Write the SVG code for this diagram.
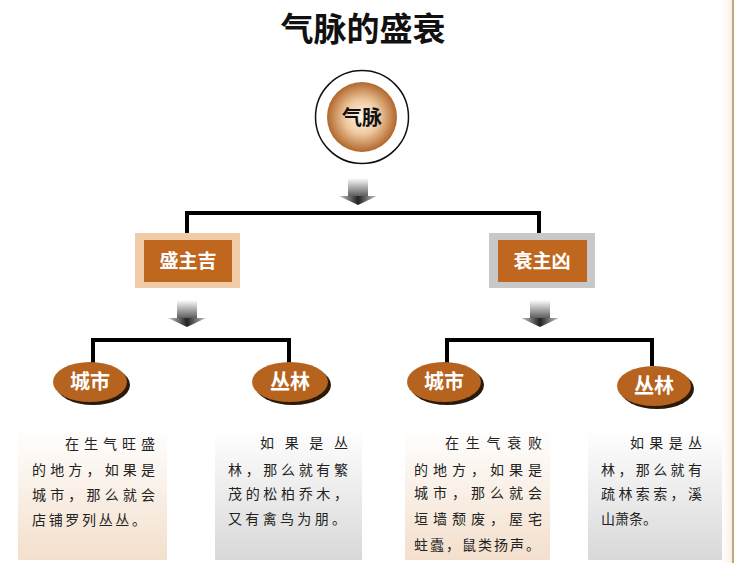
<svg xmlns="http://www.w3.org/2000/svg" width="737" height="563" viewBox="0 0 737 563">
<defs>
<radialGradient id="ball" cx="50%" cy="50%" r="50%">
<stop offset="0" stop-color="#fff6ea"/>
<stop offset="0.5" stop-color="#eec79e"/>
<stop offset="1" stop-color="#b0672b"/>
</radialGradient>
<linearGradient id="stem" x1="0" y1="0" x2="0" y2="1">
<stop offset="0" stop-color="#ffffff"/>
<stop offset="1" stop-color="#555555"/>
</linearGradient>
<linearGradient id="head" x1="0" y1="0" x2="1" y2="0">
<stop offset="0" stop-color="#cccccc"/>
<stop offset="0.5" stop-color="#222222"/>
<stop offset="1" stop-color="#cccccc"/>
</linearGradient>
<linearGradient id="peach" x1="0" y1="0" x2="0" y2="1">
<stop offset="0" stop-color="#ffffff"/>
<stop offset="1" stop-color="#f3dfcc"/>
</linearGradient>
<linearGradient id="gray" x1="0" y1="0" x2="0" y2="1">
<stop offset="0" stop-color="#ffffff"/>
<stop offset="1" stop-color="#d8d8d8"/>
</linearGradient>
<linearGradient id="edge" x1="0" y1="0" x2="1" y2="0">
<stop offset="0" stop-color="#ffffff" stop-opacity="0"/>
<stop offset="1" stop-color="#f6ebdf"/>
</linearGradient>
<g id="arrow">
<rect x="-10" y="0" width="20" height="19" fill="url(#stem)"/>
<polygon points="-19,18 19,18 0,27" fill="url(#head)"/>
</g>
</defs>
<style>
.title{font-family:"Noto Sans CJK SC","Noto Sans",sans-serif;font-weight:bold;font-size:33px;fill:#111;}
.lbl{font-family:"Noto Sans CJK SC","Noto Sans",sans-serif;font-weight:bold;font-size:19px;fill:#ffffff;}
.ellbl{font-family:"Noto Sans CJK SC","Noto Sans",sans-serif;font-weight:bold;font-size:20px;fill:#ffffff;}
.body{font-family:"Noto Sans CJK SC","Noto Sans",sans-serif;font-size:14px;fill:#222;}
.ln{stroke:#000;stroke-width:4;fill:none;}
.ell{fill:#b5631f;}
.sh{fill:#2a1a0a;}
.inner{fill:#c0671f;}
</style>
<rect x="0" y="0" width="737" height="563" fill="#ffffff"/>
<rect x="718" y="0" width="15" height="563" fill="url(#edge)"/>
<line x1="733" y1="0" x2="733" y2="563" stroke="#c9a27e" stroke-width="2"/>

<text class="title" x="363" y="41" text-anchor="middle">气脉的盛衰</text>

<g id="connectors">
<use href="#arrow" x="358" y="178"/>
<polyline class="ln" points="187,233 187,213 539,213 539,233"/>
<use href="#arrow" x="187" y="300"/>
<polyline class="ln" points="93,363 93,340 289,340 289,363"/>
<use href="#arrow" x="540" y="300"/>
<polyline class="ln" points="447,363 447,340 652,340 652,366"/>
</g>

<g id="node-root">
<circle cx="362" cy="117" r="46.5" fill="#ffffff" stroke="#111" stroke-width="1.5"/>
<circle cx="362" cy="117" r="35" fill="url(#ball)"/>
<text x="362" y="125" text-anchor="middle" style="font-family:'Noto Sans CJK SC',sans-serif;font-weight:bold;font-size:20px;fill:#111;">气脉</text>
</g>

<g id="node-ji">
<rect x="135" y="233" width="105" height="55" fill="#f0cba8"/>
<rect class="inner" x="144" y="240" width="88" height="42"/>
<text class="lbl" x="188" y="268" text-anchor="middle">盛主吉</text>
</g>

<g id="node-xiong">
<rect x="489" y="233" width="106" height="55" fill="#c8c8c8"/>
<rect class="inner" x="498" y="240" width="89" height="42"/>
<text class="lbl" x="542" y="268" text-anchor="middle">衰主凶</text>
</g>

<g id="node-city1">
<ellipse class="sh" cx="93" cy="385" rx="37" ry="20"/>
<ellipse class="ell" cx="90" cy="382" rx="37" ry="20"/>
<text class="ellbl" x="90" y="389" text-anchor="middle">城市</text>
</g>
<g id="node-forest1">
<ellipse class="sh" cx="293" cy="385" rx="38" ry="20"/>
<ellipse class="ell" cx="290" cy="382" rx="38" ry="20"/>
<text class="ellbl" x="290" y="389" text-anchor="middle">丛林</text>
</g>
<g id="node-city2">
<ellipse class="sh" cx="447" cy="385" rx="37" ry="20"/>
<ellipse class="ell" cx="444" cy="382" rx="37" ry="20"/>
<text class="ellbl" x="444" y="389" text-anchor="middle">城市</text>
</g>
<g id="node-forest2">
<ellipse class="sh" cx="657" cy="389" rx="37" ry="20"/>
<ellipse class="ell" cx="654" cy="386" rx="37" ry="20"/>
<text class="ellbl" x="654" y="393" text-anchor="middle">丛林</text>
</g>

<g id="text1">
<rect x="18" y="428" width="149" height="132" fill="url(#peach)"/>
<text class="body" x="65" y="449" textLength="90" lengthAdjust="spacing">在生气旺盛</text>
<text class="body" x="32" y="475" textLength="123" lengthAdjust="spacing">的地方，如果是</text>
<text class="body" x="32" y="500" textLength="123" lengthAdjust="spacing">城市，那么就会</text>
<text class="body" x="32" y="525" textLength="114" lengthAdjust="spacing">店铺罗列丛丛。</text>
</g>
<g id="text2">
<rect x="215" y="428" width="147" height="132" fill="url(#gray)"/>
<text class="body" x="260" y="448" textLength="88" lengthAdjust="spacing">如果是丛</text>
<text class="body" x="228" y="475" textLength="120" lengthAdjust="spacing">林，那么就有繁</text>
<text class="body" x="228" y="499" textLength="120" lengthAdjust="spacing">茂的松柏乔木，</text>
<text class="body" x="228" y="524" textLength="118" lengthAdjust="spacing">又有禽鸟为朋。</text>
</g>
<g id="text3">
<rect x="405" y="428" width="145" height="132" fill="url(#peach)"/>
<text class="body" x="445" y="448" textLength="97" lengthAdjust="spacing">在生气衰败</text>
<text class="body" x="414" y="475" textLength="128" lengthAdjust="spacing">的地方，如果是</text>
<text class="body" x="414" y="498" textLength="128" lengthAdjust="spacing">城市，那么就会</text>
<text class="body" x="414" y="524" textLength="128" lengthAdjust="spacing">垣墙颓废，屋宅</text>
<text class="body" x="414" y="550" textLength="126" lengthAdjust="spacing">蛀蠹，鼠类扬声。</text>
</g>
<g id="text4">
<rect x="588" y="428" width="134" height="132" fill="url(#gray)"/>
<text class="body" x="630" y="448" textLength="72" lengthAdjust="spacing">如果是丛</text>
<text class="body" x="601" y="475" textLength="101" lengthAdjust="spacing">林，那么就有</text>
<text class="body" x="601" y="499" textLength="101" lengthAdjust="spacing">疏林索索，溪</text>
<text class="body" x="601" y="524" textLength="56" lengthAdjust="spacing">山萧条。</text>
</g>
</svg>
